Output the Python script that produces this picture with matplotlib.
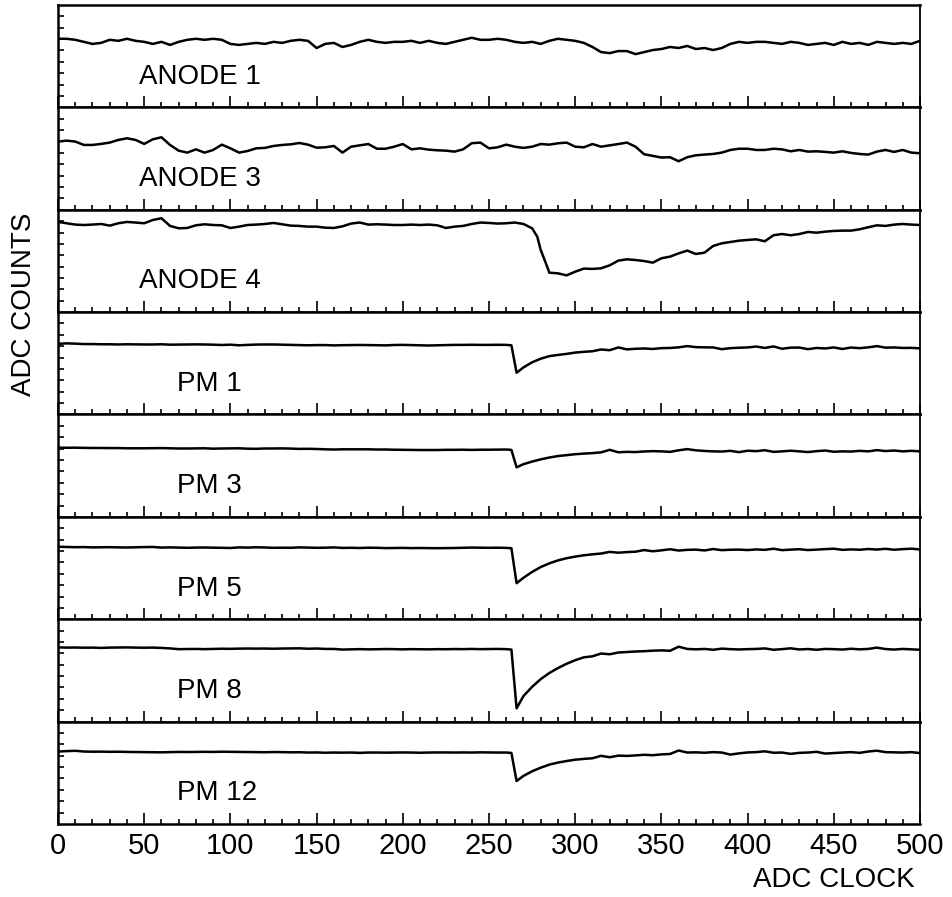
import matplotlib
matplotlib.use("Agg")
import matplotlib.pyplot as plt
from matplotlib.ticker import MultipleLocator
import numpy as np

# ---------------- data (arbitrary ADC units per panel) ----------------
clock = list(range(0, 505, 5))

anode1 = [67, 67, 66, 64, 62, 63, 66, 65, 67, 65, 64, 62, 64, 61, 64, 66, 67, 66, 67, 66,
          62, 61, 62, 63, 62, 64, 63, 65, 66, 65, 58, 62, 63, 59, 61, 64, 66, 64, 63, 64,
          64, 65, 63, 65, 63, 62, 64, 66, 68, 66, 66, 67, 66, 64, 63, 64, 62, 65, 67, 66,
          65, 63, 59, 54, 53, 55, 55, 52, 54, 56, 57, 59, 58, 60, 57, 58, 56, 58, 62, 64,
          63, 64, 64, 63, 62, 64, 63, 61, 62, 63, 61, 64, 62, 63, 61, 64, 63, 62, 63, 62, 65]

anode3 = [66.6, 67.5, 66.6, 63.3, 63.3, 64.3, 65.6, 68.2, 69.8, 68.2, 64.3, 68.8, 70.8, 63.3,
          57.7, 55.8, 59.0, 55.8, 58.4, 63.6, 60.0, 55.8, 57.4, 60.0, 60.4, 62.3, 63.3, 63.9,
          65.2, 63.6, 60.6, 61.0, 62.3, 55.8, 61.6, 62.9, 64.2, 59.6, 59.6, 61.6, 64.2, 59.0,
          60.0, 58.7, 58.1, 57.7, 56.8, 59.0, 65.0, 65.6, 60.0, 61.0, 63.6, 61.6, 60.4, 61.6,
          64.2, 63.6, 64.9, 65.6, 61.6, 61.0, 64.2, 61.6, 62.9, 64.2, 65.6, 61.6, 54.2, 52.6,
          51.0, 51.3, 47.4, 51.3, 53.2, 53.9, 54.5, 55.8, 58.4, 59.6, 59.6, 58.4, 58.4, 59.6,
          59.0, 57.1, 58.4, 56.8, 57.1, 56.5, 55.8, 57.1, 55.5, 54.5, 53.9, 56.8, 58.4, 56.5,
          58.4, 55.8, 55.2]

anode4_clock = (list(range(0, 280, 5)) + [278, 280, 283, 285]
                + list(range(290, 505, 5)))
anode4_clock = sorted(set(anode4_clock))
anode4 = [88.1, 86.8, 85.5, 85.1, 85.5, 86.1, 84.5, 86.8, 88.1, 87.5, 86.8, 90.0, 91.7, 84.2,
          81.9, 82.2, 84.8, 85.8, 85.1, 84.8, 82.2, 83.5, 85.1, 85.5, 86.1, 87.1, 85.8, 84.5,
          84.2, 83.5, 83.5, 82.5, 82.2, 83.8, 86.5, 87.5, 85.5, 85.8, 85.5, 85.1, 85.1, 85.5,
          85.1, 85.5, 84.8, 82.2, 83.5, 84.2, 86.1, 87.5, 87.1, 86.5, 86.8, 87.5, 86.1, 81.9,
          73.7, 60.7, 47.7, 38.5,
          37.9, 35.9, 39.5, 42.5, 42.2, 42.8, 45.7, 50.3, 51.6, 50.9, 49.9, 48.3, 52.6, 54.2,
          57.4, 60.1, 56.8, 58.1, 64.6, 67.2, 68.5, 69.8, 70.5, 71.1, 69.2, 75.1, 76.3, 75.1,
          76.3, 78.3, 77.6, 78.6, 79.3, 79.6, 79.6, 80.9, 82.9, 84.8, 84.2, 85.5, 86.1, 85.5,
          85.1]

pm_clock = list(range(0, 265, 5)) + [263, 266] + list(range(270, 505, 5))
pm_clock = sorted(pm_clock)

pm1 = [69.0, 69.5, 69.2, 68.8, 68.8, 68.6, 68.6, 68.4, 68.6, 68.5, 68.4, 68.4, 68.6, 68.2,
       68.3, 68.4, 68.5, 68.4, 68.2, 67.9, 68.2, 67.6, 68.0, 68.3, 68.4, 68.4, 68.2, 68.0,
       67.8, 67.6, 67.8, 67.8, 67.5, 67.7, 67.8, 67.9, 67.8, 67.7, 67.5, 67.9, 68.0, 67.8,
       67.6, 67.4, 67.6, 67.8, 68.0, 68.0, 68.1, 68.0, 68.0, 68.1, 68.0, 67.6, 40.8,
       46.0, 51.0, 54.5, 57.0, 58.2, 59.2, 60.5, 61.2, 61.8, 63.5, 62.8, 65.5, 63.6, 64.2,
       64.5, 64.0, 64.8, 65.0, 65.6, 66.8, 65.8, 65.6, 65.5, 63.8, 64.8, 65.2, 65.5, 66.4,
       65.0, 66.5, 64.2, 65.3, 65.4, 63.8, 65.0, 64.5, 65.5, 64.0, 65.4, 64.8, 65.6, 66.8,
       65.3, 65.5, 65.0, 65.1, 64.6]

pm3 = [67.6, 67.5, 67.6, 67.4, 67.3, 67.3, 67.2, 67.2, 67.0, 67.0, 67.0, 67.1, 67.2, 67.0,
       66.8, 66.8, 66.9, 67.0, 66.6, 66.8, 66.9, 67.0, 66.6, 66.5, 66.8, 66.8, 66.9, 66.7,
       66.4, 66.5, 66.3, 66.0, 65.8, 66.0, 66.0, 66.0, 66.0, 65.8, 65.8, 65.6, 65.5, 65.4,
       65.3, 65.3, 65.3, 65.5, 65.5, 65.6, 65.4, 65.6, 65.6, 65.7, 65.8, 65.4, 48.4,
       51.5, 54.0, 56.2, 58.0, 59.4, 60.3, 61.2, 61.8, 62.3, 63.0, 65.5, 63.1, 63.5, 63.3,
       63.9, 64.2, 64.0, 63.5, 65.0, 66.2, 65.0, 64.4, 64.0, 63.8, 64.5, 63.2, 64.6, 64.2,
       65.1, 63.5, 64.0, 64.6, 64.0, 63.3, 64.2, 64.8, 63.6, 64.0, 63.8, 64.5, 64.0, 65.2,
       64.3, 64.8, 64.0, 64.5, 64.0]

pm5 = [70.8, 70.6, 70.4, 70.5, 70.2, 70.3, 70.4, 70.2, 70.1, 70.3, 70.5, 70.6, 70.0, 70.2,
       70.0, 69.8, 70.0, 70.1, 69.9, 69.8, 69.6, 70.2, 70.0, 70.3, 70.1, 69.8, 69.9, 69.8,
       70.2, 70.0, 69.8, 69.9, 70.2, 69.7, 69.8, 69.6, 69.9, 69.8, 69.5, 69.6, 69.7, 69.5,
       69.6, 69.5, 69.4, 69.5, 69.6, 69.8, 70.0, 69.9, 69.8, 69.9, 69.7, 69.4, 35.2,
       40.5, 46.2, 51.0, 54.6, 57.5, 59.6, 61.2, 62.5, 63.4, 64.2, 65.8, 65.0, 65.6, 66.0,
       67.6, 66.4, 67.3, 68.4, 67.1, 67.8, 68.0, 67.2, 68.6, 67.5, 67.9, 68.0, 67.6, 68.2,
       67.8, 68.9, 67.5, 68.0, 68.4, 67.6, 68.0, 68.5, 68.9, 67.8, 68.2, 67.9, 68.6, 68.1,
       68.8, 67.9, 68.5, 68.9, 68.2]

pm8 = [72.5, 72.3, 72.4, 72.2, 72.3, 72.0, 72.3, 72.4, 72.5, 72.3, 72.2, 72.3, 72.0, 71.5,
       70.8, 70.9, 71.0, 70.8, 71.0, 71.2, 71.1, 71.3, 71.4, 71.3, 71.4, 71.2, 71.4, 71.5,
       71.6, 71.2, 71.4, 71.0, 71.0, 70.4, 70.6, 70.8, 70.6, 70.7, 70.9, 70.8, 70.6, 70.8,
       70.7, 70.6, 70.8, 70.7, 70.9, 70.8, 71.0, 70.8, 70.9, 71.0, 70.8, 70.4, 13.0,
       25.0, 34.0, 41.5, 47.5, 52.3, 56.5, 60.0, 62.8, 63.8, 66.5, 65.8, 67.5, 68.0, 68.5,
       68.8, 69.3, 69.6, 69.2, 73.2, 71.0, 70.6, 71.0, 70.2, 71.3, 70.8, 70.5, 70.8, 71.0,
       71.5, 70.2, 70.8, 71.6, 70.5, 70.9, 70.2, 71.0, 70.8, 70.4, 71.2, 70.6, 71.0, 72.3,
       70.9, 70.4, 71.0, 70.6, 70.2]

pm12 = [70.8, 71.2, 71.5, 70.8, 70.6, 70.7, 70.5, 70.6, 70.4, 70.3, 70.2, 70.1, 70.0, 70.2,
        70.4, 70.3, 70.4, 70.5, 70.4, 70.6, 70.5, 70.4, 70.3, 70.2, 70.1, 70.3, 70.2, 70.0,
        70.1, 69.8, 69.9, 69.6, 69.8, 69.7, 69.8, 69.5, 69.8, 69.8, 69.7, 69.8, 69.9, 69.8,
        69.6, 69.8, 69.9, 69.9, 69.8, 69.9, 69.8, 70.0, 69.9, 69.8, 69.8, 69.4, 42.0,
        47.0, 51.5, 55.0, 58.0, 60.0, 61.5, 62.8, 63.6, 64.2, 66.6, 65.2, 66.8, 66.5, 67.0,
        67.6, 67.2, 68.0, 68.4, 71.8, 69.8, 70.0, 69.6, 70.2, 69.8, 67.8, 69.0, 69.9, 70.2,
        71.0, 69.6, 69.8, 68.5, 69.5, 69.8, 70.5, 68.8, 69.3, 69.8, 70.2, 69.5, 70.8, 71.6,
        70.2, 70.0, 69.8, 70.2, 69.3]

panel_labels = ["ANODE 1", "ANODE 3", "ANODE 4", "PM 1", "PM 3", "PM 5", "PM 8", "PM 12"]
label_x = [47, 47, 47, 69, 69, 69, 69, 69]
series = [(clock, anode1), (clock, anode3), (anode4_clock, anode4),
          (pm_clock, pm1), (pm_clock, pm3), (pm_clock, pm5), (pm_clock, pm8), (pm_clock, pm12)]
x_ticks = list(range(0, 501, 50))
x_label = "ADC CLOCK"
y_label = "ADC COUNTS"

# ---------------- figure ----------------
plt.rcParams['font.family'] = ['Liberation Sans', 'DejaVu Sans']
W, H = 952, 897
fig = plt.figure(figsize=(W / 100, H / 100), dpi=100)
left, right = 58 / W, 920 / W
top, bottom = 1 - 5 / H, 1 - 824 / H
gs = fig.add_gridspec(len(series), 1, left=left, right=right, top=top, bottom=bottom, hspace=0)

for i, ((xs, ys), lab, lx) in enumerate(zip(series, panel_labels, label_x)):
    ax = fig.add_subplot(gs[i, 0])
    ax.plot(xs, ys, color='black', lw=1.8, solid_joinstyle='round')
    ax.set_xlim(0, 500)
    ax.set_ylim(0, 100)
    ax.text(lx, 30, lab, fontsize=20, va='center', ha='left')
    ax.xaxis.set_major_locator(MultipleLocator(50))
    ax.xaxis.set_minor_locator(MultipleLocator(10))
    ax.set_yticks(np.linspace(0, 100, 10)[1:-1])
    ax.tick_params(axis='x', which='major', direction='in', length=8, width=1.2,
                   top=False, bottom=True, labelsize=21, pad=6)
    ax.tick_params(axis='x', which='minor', direction='in', length=3.5, width=1.2,
                   top=False, bottom=True)
    ax.tick_params(axis='y', which='major', direction='in', length=4.5, width=1.2,
                   left=True, right=False, labelleft=False)
    for s in ['left', 'bottom', 'top']:
        ax.spines[s].set_linewidth(1.8)
    ax.spines['right'].set_linewidth(1.3)
    if i < len(series) - 1:
        ax.tick_params(axis='x', labelbottom=False)
    else:
        ax.set_xticks(x_ticks)
        ax.set_xticklabels([str(t) for t in x_ticks])

fig.text(915 / W, 1 - 880 / H, x_label, fontsize=20, ha='right', va='center')
fig.text(24 / W, 1 - 304 / H, y_label, fontsize=20, ha='center', va='center', rotation=90)

fig.savefig("out.png", dpi=100, facecolor='white')
